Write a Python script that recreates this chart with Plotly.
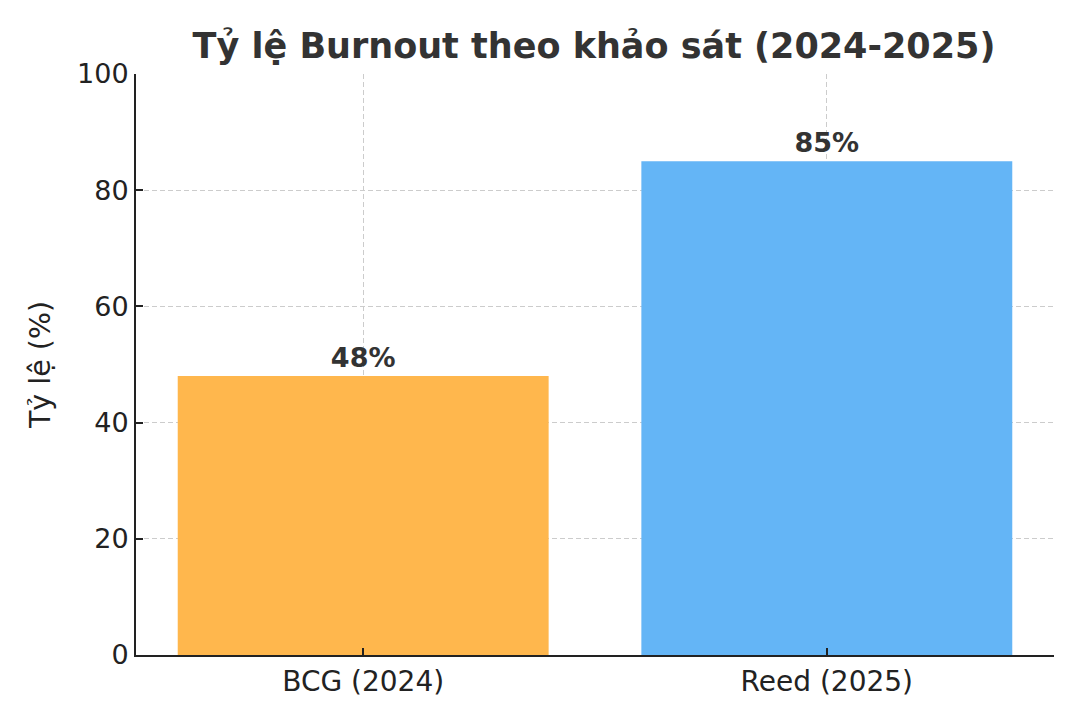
import plotly.graph_objects as go

# survey data
categories = ["BCG (2024)", "Reed (2025)"]
values = [48, 85]
bar_labels = ["48%", "85%"]
colors = ["#FFB74D", "#64B5F6"]

FONT = "DejaVu Sans"

fig = go.Figure()

fig.add_trace(
    go.Bar(
        x=[0, 1],
        y=values,
        width=0.8,
        marker=dict(color=colors, line=dict(width=0)),
        text=bar_labels,
        textposition="outside",
        textfont=dict(family=FONT, size=27, color="#333333", weight="bold"),
        cliponaxis=False,
    )
)

fig.update_layout(
    width=1080,
    height=720,
    plot_bgcolor="white",
    paper_bgcolor="white",
    showlegend=False,
    margin=dict(l=128, r=34, t=66, b=73),
    title=dict(
        text="<b>Tỷ lệ Burnout theo khảo sát (2024-2025)</b>",
        x=0.5426,
        xanchor="center",
        y=0.947,
        yanchor="middle",
        font=dict(family=FONT, size=35, color="#333333"),
    ),
    font=dict(family=FONT, color="#222222"),
)

# grid lines sit on top of the bars, like the original
axis_style = dict(
    ticks="inside",
    ticklen=7,
    tickwidth=1.5,
    tickcolor="#222222",
    showline=True,
    linecolor="#222222",
    linewidth=2,
    showgrid=True,
    gridcolor="#cccccc",
    griddash="5px,3px",
    gridwidth=1,
    zeroline=False,
    layer="above traces",
)

fig.update_xaxes(
    range=[-0.49, 1.49],
    tickmode="array",
    tickvals=[0, 1],
    ticktext=categories,
    tickfont=dict(family=FONT, size=28, color="#222222"),
    **axis_style,
)

fig.update_yaxes(
    range=[0, 100],
    dtick=20,
    tickfont=dict(family=FONT, size=27, color="#222222"),
    title=dict(text="Tỷ lệ (%)", font=dict(family=FONT, size=28.5, color="#222222"), standoff=18),
    **axis_style,
)

fig.write_html("out.html")
